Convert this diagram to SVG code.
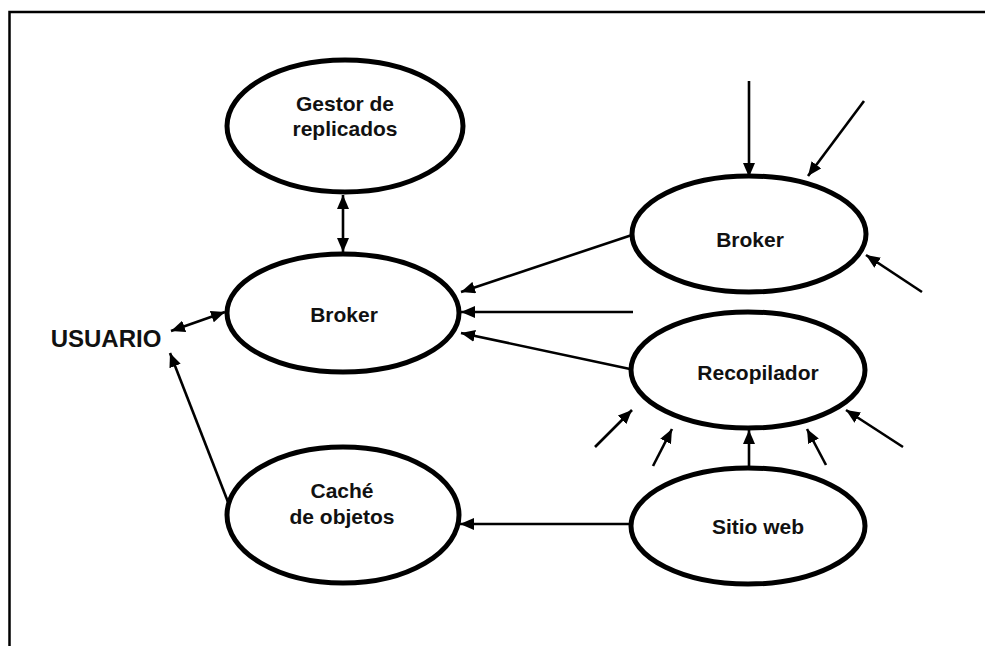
<svg xmlns="http://www.w3.org/2000/svg" width="985" height="646" viewBox="0 0 985 646">
  <defs>
    <style>
      .node { fill: #ffffff; stroke: #000000; stroke-width: 5; }
      .lbl { font-family: "Liberation Sans", Arial, sans-serif; font-weight: bold; font-size: 21px; fill: #111111; text-anchor: middle; }
      .conn line { stroke: #000000; stroke-width: 2.6; fill: none; }
      .one line { marker-end: url(#arr); }
      .two line { marker-start: url(#arr); marker-end: url(#arr); }
    </style>
    <marker id="arr" viewBox="0 0 14 12" refX="14" refY="6" markerWidth="14" markerHeight="12" markerUnits="userSpaceOnUse" orient="auto-start-reverse">
      <path d="M0,0 L14,6 L0,12 Z" fill="#000000"/>
    </marker>
  </defs>
  <rect width="985" height="646" fill="#ffffff"/>
  <path d="M9.5,660 V12 H1000" fill="none" stroke="#000000" stroke-width="2.5"/>

  <g id="connectors" class="conn">
    <g class="two">
      <line x1="343" y1="195" x2="343" y2="252"/>
      <line x1="171" y1="331" x2="225" y2="312"/>
    </g>
    <g class="one">
      <line x1="228" y1="502" x2="170" y2="353"/>
      <line x1="632" y1="235" x2="461" y2="292"/>
      <line x1="633" y1="312" x2="461" y2="312"/>
      <line x1="630" y1="369" x2="461" y2="333"/>
      <line x1="630" y1="524" x2="460" y2="524"/>
      <line x1="749" y1="468" x2="749" y2="430"/>
      <line x1="749" y1="81" x2="749" y2="177"/>
      <line x1="864" y1="101" x2="808" y2="176"/>
      <line x1="922" y1="292" x2="866" y2="255"/>
      <line x1="595" y1="447" x2="632" y2="410"/>
      <line x1="653" y1="466" x2="672" y2="429"/>
      <line x1="826" y1="465" x2="807" y2="429"/>
      <line x1="903" y1="447" x2="846" y2="410"/>
    </g>
  </g>

  <g id="usuario">
    <text class="lbl" x="106" y="347" style="font-size:24px">USUARIO</text>
  </g>
  <g id="gestor">
    <ellipse class="node" cx="345" cy="126" rx="118" ry="66"/>
    <text class="lbl" x="345" y="111">Gestor de</text>
    <text class="lbl" x="345" y="136">replicados</text>
  </g>
  <g id="broker-left">
    <ellipse class="node" cx="343" cy="313" rx="116" ry="59"/>
    <text class="lbl" x="344" y="322">Broker</text>
  </g>
  <g id="cache">
    <ellipse class="node" cx="343" cy="515" rx="116" ry="68"/>
    <text class="lbl" x="342" y="498">Caché</text>
    <text class="lbl" x="342" y="524">de objetos</text>
  </g>
  <g id="broker-right">
    <ellipse class="node" cx="749" cy="234" rx="117" ry="58"/>
    <text class="lbl" x="750" y="247">Broker</text>
  </g>
  <g id="recopilador">
    <ellipse class="node" cx="748" cy="370" rx="117" ry="58"/>
    <text class="lbl" x="758" y="380">Recopilador</text>
  </g>
  <g id="sitio-web">
    <ellipse class="node" cx="748" cy="526" rx="117" ry="58"/>
    <text class="lbl" x="758" y="534">Sitio web</text>
  </g>
</svg>
